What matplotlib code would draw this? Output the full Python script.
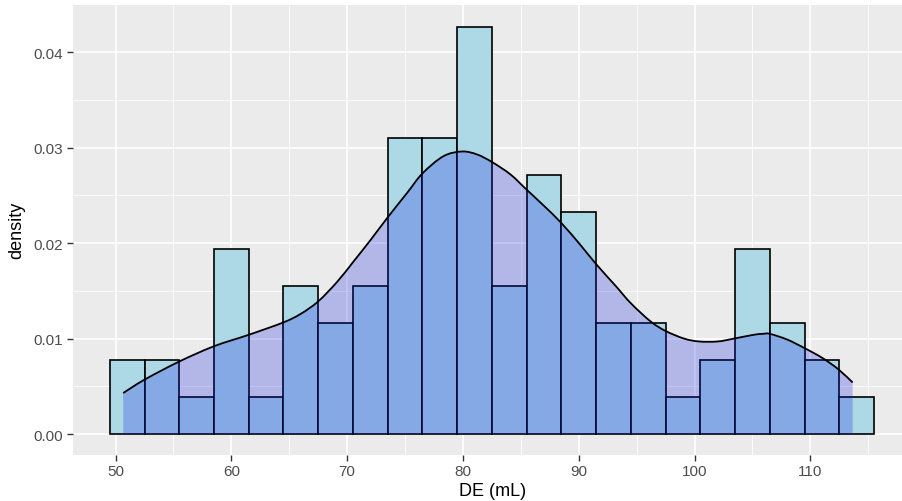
import numpy as np
import matplotlib
matplotlib.use("Agg")
import matplotlib.pyplot as plt
from matplotlib.ticker import FixedLocator
from matplotlib.path import Path
from matplotlib.patches import PathPatch

plt.rcParams['font.family'] = ['Liberation Sans', 'DejaVu Sans']

# Histogram of DE (mL), binwidth 3, shown as density
bin_width = 3.0
bin_left = [49.5, 52.5, 55.5, 58.5, 61.5, 64.5, 67.5, 70.5, 73.5, 76.5, 79.5,
            82.5, 85.5, 88.5, 91.5, 94.5, 97.5, 100.5, 103.5, 106.5, 109.5, 112.5]
bin_counts = [2, 2, 1, 5, 1, 4, 3, 4, 8, 8, 11, 4, 7, 6, 3, 3, 1, 2, 5, 3, 2, 1]

# Kernel density estimate of the same sample
density_x = [50.66, 52.5, 55.5, 58.5, 61.5, 64.5, 66.0, 67.5, 69.1, 70.5, 72.0,
             73.5, 75.2, 76.5, 78.3, 79.9, 81.2, 82.5, 84.1, 85.5, 87.0, 88.5,
             90.15, 91.5, 93.2, 94.5, 96.2, 97.5, 99.1, 100.4, 102.0, 103.4,
             105.1, 105.9, 106.5, 108.0, 109.5, 111.0, 112.4, 113.65]
density_y = [0.0043, 0.0057, 0.0076, 0.0092, 0.0104, 0.0117, 0.0126, 0.0139,
             0.0159, 0.0180, 0.0203, 0.0227, 0.0253, 0.0273, 0.0291, 0.0296,
             0.0293, 0.0285, 0.0272, 0.0256, 0.0239, 0.0221, 0.0198, 0.0178,
             0.0155, 0.0137, 0.0118, 0.0108, 0.0100, 0.0097, 0.0097, 0.0100,
             0.0104, 0.0105, 0.0105, 0.0099, 0.0090, 0.0080, 0.0068, 0.0054]

x_ticks = [50, 60, 70, 80, 90, 100, 110]
y_ticks = [0.00, 0.01, 0.02, 0.03, 0.04]
y_tick_labels = ["0.00", "0.01", "0.02", "0.03", "0.04"]

n_total = sum(bin_counts)
bar_heights = [c / (n_total * bin_width) for c in bin_counts]


def smooth_path_vertices(xs, ys):
    """Bezier control points (Catmull-Rom style) passing through every point."""
    pts = np.column_stack([xs, ys]).astype(float)
    n = len(pts)
    verts = [pts[0]]
    codes = [Path.MOVETO]
    for i in range(n - 1):
        p0 = pts[i - 1] if i > 0 else pts[i]
        p1 = pts[i]
        p2 = pts[i + 1]
        p3 = pts[i + 2] if i + 2 < n else pts[i + 1]
        c1 = p1 + (p2 - p0) / 6.0
        c2 = p2 - (p3 - p1) / 6.0
        verts += [c1, c2, p2]
        codes += [Path.CURVE4] * 3
    return verts, codes


W, H = 902, 502
fig = plt.figure(figsize=(W / 100, H / 100), dpi=100)
left_px, right_px, top_px, bottom_px = 72.7, 912.3, 5.5, 455.5
ax = fig.add_axes([left_px / W, 1 - bottom_px / H,
                   (right_px - left_px) / W, (bottom_px - top_px) / H])

ax.set_facecolor('#EBEBEB')
for s in ax.spines.values():
    s.set_visible(False)

ax.bar(bin_left, bar_heights, width=bin_width, align='edge',
       color='#ADD8E6', edgecolor='black', linewidth=1.2, zorder=2)

verts, codes = smooth_path_vertices(density_x, density_y)
fill_verts = verts + [(density_x[-1], 0.0), (density_x[0], 0.0), verts[0]]
fill_codes = codes + [Path.LINETO, Path.LINETO, Path.CLOSEPOLY]
ax.add_patch(PathPatch(Path(fill_verts, fill_codes), facecolor=(0.05, 0.12, 0.88),
                       alpha=0.25, linewidth=0, zorder=3))
ax.add_patch(PathPatch(Path(verts, codes), facecolor='none', edgecolor='black',
                       linewidth=1.3, zorder=4))

ax.set_xlim(46.3, 118.8)
ax.set_ylim(-0.00214, 0.0450)

ax.xaxis.set_major_locator(FixedLocator(x_ticks))
ax.set_xticklabels([str(v) for v in x_ticks])
ax.xaxis.set_minor_locator(FixedLocator([45, 55, 65, 75, 85, 95, 105, 115]))
ax.yaxis.set_major_locator(FixedLocator(y_ticks))
ax.set_yticklabels(y_tick_labels)
ax.yaxis.set_minor_locator(FixedLocator([0.005, 0.015, 0.025, 0.035]))

ax.grid(which='major', color='white', linewidth=1.2, zorder=0)
ax.grid(which='minor', color='white', linewidth=0.6, zorder=0)
ax.set_axisbelow(True)

ax.tick_params(which='major', length=4, width=1.0, color='#333333',
               labelsize=11, labelcolor='#4D4D4D', pad=3)
ax.tick_params(which='minor', length=0)

ax.set_xlabel('DE (mL)', fontsize=13, color='black', labelpad=3)
ax.set_ylabel('density', fontsize=13, color='black', labelpad=6)

fig.savefig('out.png', dpi=100)
